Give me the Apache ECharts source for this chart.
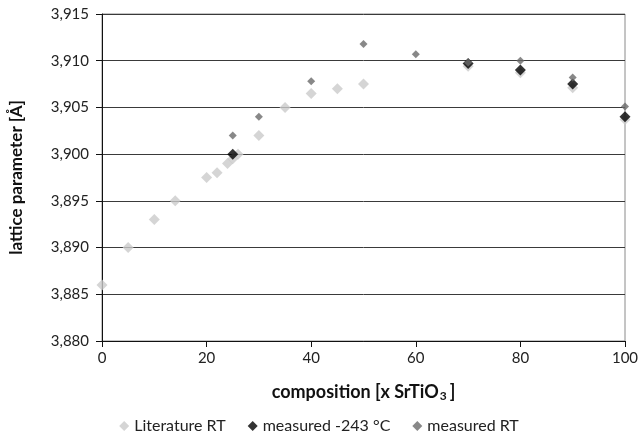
<!DOCTYPE html>
<html>
<head>
<meta charset="utf-8">
<script src="https://cdn.jsdelivr.net/npm/echarts@6/dist/echarts.min.js"></script>
<style>
  html, body { margin: 0; padding: 0; background: #fff; }
  #main { width: 638px; height: 444px; }
</style>
</head>
<body>
<div id="main"></div>
<script>
// composition [x SrTiO3] vs lattice parameter
const litX = [0, 5, 10, 14, 20, 22, 24, 25, 26, 30, 35, 40, 45, 50, 70, 80, 90, 100];
const litY = [3.886, 3.890, 3.893, 3.895, 3.8975, 3.898, 3.899, 3.8995, 3.900, 3.902, 3.905, 3.9065, 3.907, 3.9075, 3.9094, 3.9087, 3.9071, 3.9037];

const coldX = [25, 70, 80, 90, 100];
const coldY = [3.900, 3.9097, 3.909, 3.9075, 3.904];

const rtX = [25, 30, 40, 50, 60, 70, 80, 90, 100];
const rtY = [3.902, 3.904, 3.9078, 3.9118, 3.9107, 3.9098, 3.910, 3.9082, 3.9051];

const pairs = (xs, ys) => xs.map((x, i) => [x, ys[i]]);

const chart = echarts.init(document.getElementById('main'));
const font = 'Lato, "Open Sans", sans-serif';

chart.setOption({
  animation: false,
  textStyle: { fontFamily: font },
  grid: {
    left: 102, right: 13, top: 14, bottom: 103,
    outerBoundsMode: 'none',
    show: true, borderColor: '#8a8a8a', borderWidth: 1
  },
  legend: {
    bottom: 5,
    left: 'center',
    itemWidth: 10,
    itemHeight: 10,
    itemGap: 22,
    textStyle: { fontSize: 16, color: '#222', fontFamily: font },
    data: [
      { name: 'Literature RT', icon: 'diamond' },
      { name: 'measured -243 °C', icon: 'diamond' },
      { name: 'measured RT', icon: 'diamond' }
    ]
  },
  xAxis: {
    type: 'value',
    min: 0, max: 100, interval: 20,
    name: '{b|composition [x SrTiO}{s|3}{b|]}',
    nameLocation: 'middle',
    nameGap: 42,
    nameTextStyle: {
      rich: {
        b: { fontSize: 18, fontWeight: 'bold', color: '#111', fontFamily: font },
        s: { fontSize: 12, fontWeight: 'bold', color: '#111', fontFamily: font, verticalAlign: 'bottom', padding: [7, 3, 0, 1] }
      }
    },
    axisLine: { onZero: false, lineStyle: { color: '#111', width: 1 } },
    axisTick: { show: true, length: 6, lineStyle: { color: '#111' } },
    axisLabel: { fontSize: 15, color: '#222', margin: 10 },
    splitLine: { show: false }
  },
  yAxis: {
    type: 'value',
    min: 3.880, max: 3.915, interval: 0.005,
    name: 'lattice parameter [Å]',
    nameLocation: 'middle',
    nameGap: 77,
    nameTextStyle: { fontSize: 17, fontWeight: 'bold', color: '#111' },
    axisLine: { show: true, onZero: false, lineStyle: { color: '#111', width: 1 } },
    axisTick: { show: true, length: 6, lineStyle: { color: '#111' } },
    axisLabel: {
      fontSize: 15, color: '#222', margin: 13,
      formatter: v => v.toFixed(3).replace('.', ',')
    },
    splitLine: { show: true, lineStyle: { color: '#3a3a3a', width: 1 } }
  },
  series: [
    {
      name: 'Literature RT',
      type: 'scatter',
      symbol: 'diamond',
      symbolSize: 11,
      itemStyle: { color: '#cbcbcb' },
      data: pairs(litX, litY)
    },
    {
      name: 'measured -243 °C',
      type: 'scatter',
      symbol: 'diamond',
      symbolSize: 11,
      itemStyle: { color: '#000' },
      data: pairs(coldX, coldY)
    },
    {
      name: 'measured RT',
      type: 'scatter',
      symbol: 'diamond',
      symbolSize: 8,
      itemStyle: { color: '#6a6a6a' },
      data: pairs(rtX, rtY)
    }
  ]
});
</script>
</body>
</html>
